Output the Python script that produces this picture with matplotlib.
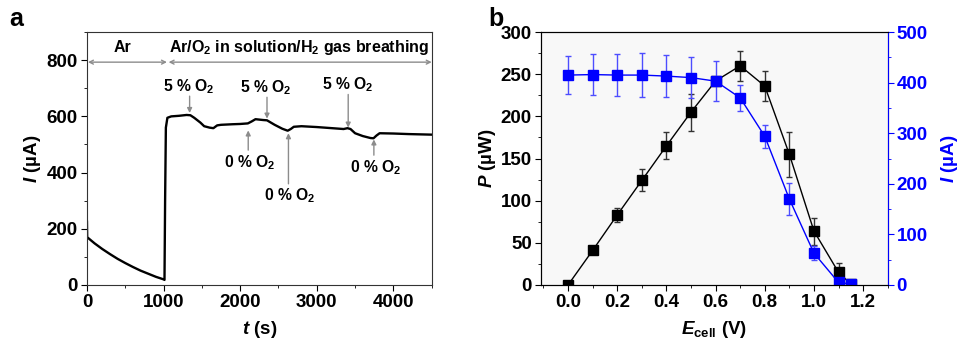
import numpy as np
import matplotlib
matplotlib.use('Agg')
import matplotlib.pyplot as plt
from matplotlib.ticker import MultipleLocator, FormatStrFormatter

plt.rcParams['font.family'] = ['Liberation Sans', 'DejaVu Sans']
plt.rcParams['font.weight'] = 'bold'
plt.rcParams['mathtext.fontset'] = 'custom'
plt.rcParams['mathtext.rm'] = 'Liberation Sans:bold'
plt.rcParams['mathtext.it'] = 'Liberation Sans:italic:bold'
plt.rcParams['mathtext.bf'] = 'Liberation Sans:bold'

# --- panel a: chronoamperometry ---
t_s = [0, 3, 100, 200, 300, 400, 500, 600, 700, 800, 900, 1000, 1012,
       1020, 1030, 1050, 1100, 1200, 1300, 1350, 1400, 1480, 1530, 1600,
       1650, 1700, 1750, 1900, 2000, 2100, 2150, 2200, 2300, 2350, 2400,
       2450, 2550, 2620, 2660, 2700, 2800, 3000, 3200, 3300, 3350, 3400,
       3440, 3500, 3600, 3700, 3740, 3780, 3820, 4000, 4200, 4500]
i_ua = [225, 170, 148, 128, 110, 93, 78, 64, 51, 40, 29, 20, 18,
        300, 560, 595, 600, 602, 605, 604, 595, 578, 565, 560,
        558, 568, 570, 572, 573, 575, 582, 590, 587, 586, 578,
        570, 556, 549, 555, 563, 565, 562, 558, 556, 555, 558,
        555, 540, 530, 523, 522, 532, 540, 539, 537, 535]

on_t = [1340, 2350, 3410]
off_t = [2105, 2630, 3745]

# --- panel b: power and current vs cell voltage ---
e_cell = [0.0, 0.1, 0.2, 0.3, 0.4, 0.5, 0.6, 0.7, 0.8, 0.9, 1.0, 1.1, 1.15]
p_uw = [0, 41, 83, 124, 165, 205, 242, 260, 236, 155, 64, 15, 1]
p_err = [0, 2, 8, 13, 16, 22, 0, 18, 18, 27, 16, 11, 0]
i_b = [415, 416, 415, 415, 413, 410, 403, 370, 294, 170, 63, 5, 2]
i_err = [37, 40, 41, 43, 42, 40, 39, 26, 23, 31, 14, 3, 0]

fig = plt.figure(figsize=(9.63, 3.45), dpi=100)
ax = fig.add_axes([0.0903, 0.174, 0.358, 0.733])
bx = fig.add_axes([0.5618, 0.174, 0.360, 0.733])

gray = '#8c8c8c'
fs_tick = 13.5
fs_lab = 13.5

# panel a
ax.plot(t_s, i_ua, color='black', lw=1.7)
ax.set_xlim(0, 4500)
ax.set_ylim(0, 900)
ax.xaxis.set_major_locator(MultipleLocator(1000))
ax.xaxis.set_minor_locator(MultipleLocator(500))
ax.yaxis.set_minor_locator(MultipleLocator(100))
ax.set_yticks([0, 200, 400, 600, 800])
ax.tick_params(which='both', direction='out', labelsize=fs_tick, top=False, right=False, pad=2.5)
ax.tick_params(which='major', length=4)
ax.tick_params(which='minor', length=2.5)
for sp in ax.spines.values():
    sp.set_color('#333333')
ax.set_xlabel('$t$ (s)', fontsize=fs_lab, fontweight='bold', labelpad=6)
ax.set_ylabel('$I$ (µA)', fontsize=fs_lab, fontweight='bold', labelpad=3)

arr = dict(arrowstyle='<->', color=gray, lw=1.0, shrinkA=0, shrinkB=0,
           mutation_scale=7)
ax.annotate('', xy=(13, 793), xytext=(1044, 793), arrowprops=arr)
ax.annotate('', xy=(1066, 793), xytext=(4500, 793), arrowprops=arr,
            annotation_clip=False)
ax.text(460, 845, 'Ar', ha='center', va='center', fontsize=11.5)
ax.text(2770, 845, 'Ar/O$_2$ in solution/H$_2$ gas breathing',
        ha='center', va='center', fontsize=11.5)

down = dict(arrowstyle='-|>', color=gray, lw=1.0, shrinkA=0, shrinkB=0,
           mutation_scale=7)
on_tail = [672, 668, 678]
on_tip = [612, 592, 560]
for x, y0, y1 in zip(on_t, on_tail, on_tip):
    ax.annotate('', xy=(x, y1), xytext=(x, y0), arrowprops=down)
    ax.text(x - 10, y0 + 2, '5 % O$_2$', ha='center', va='bottom', fontsize=11.3)
off_tail = [480, 360, 462]
off_tip = [550, 540, 518]
for x, y0, y1 in zip(off_t, off_tail, off_tip):
    ax.annotate('', xy=(x, y1), xytext=(x, y0), arrowprops=down)
    ax.text(x + 20, y0 - 10, '0 % O$_2$', ha='center', va='top', fontsize=11.3)

# panel b
bx.set_facecolor('#f8f8f8')
bx.errorbar(e_cell, p_uw, yerr=p_err, color='black', ecolor='#333333',
            marker='s', ms=6.5, lw=1.0, elinewidth=1.0, capsize=2.5, capthick=1.0)
bx.set_xlim(-0.11, 1.3)
bx.set_ylim(0, 300)
bx.xaxis.set_major_locator(MultipleLocator(0.2))
bx.xaxis.set_minor_locator(MultipleLocator(0.1))
bx.yaxis.set_major_locator(MultipleLocator(50))
bx.yaxis.set_minor_locator(MultipleLocator(25))
bx.xaxis.set_major_formatter(FormatStrFormatter('%.1f'))
bx.tick_params(which='both', direction='out', labelsize=fs_tick, top=False, right=False, pad=2.5)
bx.tick_params(which='major', length=4)
bx.tick_params(which='minor', length=2.5)
bx.set_xlabel('$E_{\\mathrm{cell}}$ (V)', fontsize=fs_lab, fontweight='bold', labelpad=6)
bx.set_ylabel('$P$ (µW)', fontsize=fs_lab, fontweight='bold', labelpad=2)

bx2 = bx.twinx()
bx2.errorbar(e_cell, i_b, yerr=i_err, color='#0000ff', ecolor='#4d4dff',
             marker='s', ms=6.5, lw=1.0, elinewidth=1.0, capsize=2.5, capthick=1.0)
bx2.set_ylim(0, 500)
bx2.yaxis.set_major_locator(MultipleLocator(100))
bx2.yaxis.set_minor_locator(MultipleLocator(50))
bx2.tick_params(which='both', direction='out', labelsize=fs_tick, colors='#0000ff', pad=2.5)
bx2.tick_params(which='major', length=4)
bx2.tick_params(which='minor', length=2.5)
bx2.spines['right'].set_color('#0000ff')
bx2.set_ylabel('$I$ (µA)', fontsize=fs_lab, fontweight='bold', color='#0000ff', labelpad=8)

fig.text(0.010, 0.925, 'a', fontsize=18, fontweight='bold')
fig.text(0.507, 0.925, 'b', fontsize=18, fontweight='bold')

fig.savefig('out.png', dpi=100)
